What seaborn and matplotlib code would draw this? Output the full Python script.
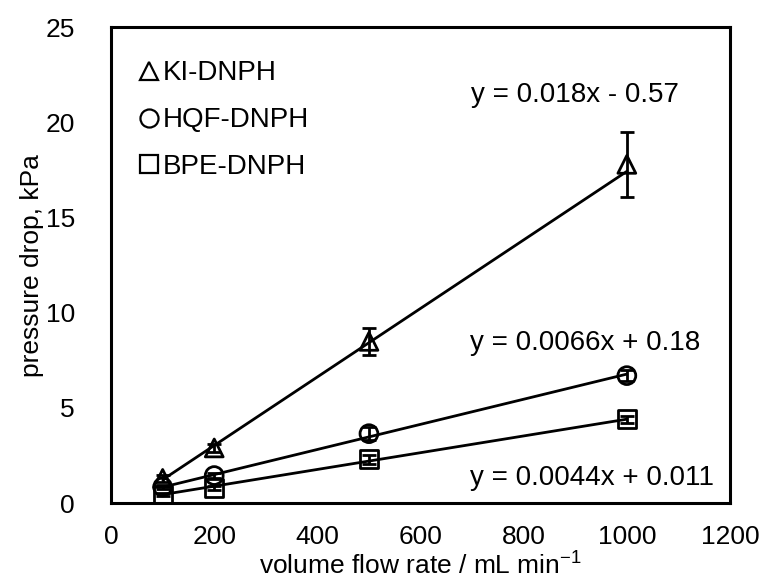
import matplotlib
matplotlib.use("Agg")
import matplotlib.pyplot as plt
from matplotlib.lines import Line2D
import numpy as np
import pandas as pd
import seaborn as sns

# ---- data ----
flow = [100, 200, 500, 1000]
series = ["KI-DNPH", "HQF-DNPH", "BPE-DNPH"]
ki = [1.3, 2.9, 8.5, 17.8]
ki_err = [0.2, 0.2, 0.7, 1.7]
hqf = [0.85, 1.45, 3.65, 6.7]
hqf_err = [0.1, 0.15, 0.35, 0.3]
bpe = [0.45, 0.8, 2.3, 4.4]
bpe_err = [0.1, 0.1, 0.25, 0.2]
slopes = [0.018, 0.0066, 0.0044]
intercepts = [-0.57, 0.18, 0.011]
eq_labels = ["y = 0.018x - 0.57", "y = 0.0066x + 0.18", "y = 0.0044x + 0.011"]
fit_x = [100, 1000]
markers = ["^", "o", "s"]

sns.set_theme(style="white")
plt.rcParams["font.family"] = ["Liberation Sans", "DejaVu Sans"]
plt.rcParams["mathtext.fontset"] = "custom"
plt.rcParams["mathtext.rm"] = "Liberation Sans"
plt.rcParams["text.color"] = "black"
plt.rcParams["axes.labelcolor"] = "black"
plt.rcParams["xtick.color"] = "black"
plt.rcParams["ytick.color"] = "black"

fig = plt.figure(figsize=(7.66, 5.81), dpi=100)
ax = fig.add_axes([0.145, 0.134, 0.808, 0.819])

vals = [ki, hqf, bpe]
errs = [ki_err, hqf_err, bpe_err]

# trendlines
fit_rows = []
for name, m, b in zip(series, slopes, intercepts):
    for xv in fit_x:
        fit_rows.append({"series": name, "x": xv, "y": m * xv + b})
fit_df = pd.DataFrame(fit_rows)
sns.lineplot(data=fit_df, x="x", y="y", units="series", estimator=None,
             color="black", linewidth=2, ax=ax, legend=False)

# points + error bars
for name, v, e, mk in zip(series, vals, errs, markers):
    ax.errorbar(flow, v, yerr=e, fmt="none", ecolor="black", elinewidth=2,
                capsize=5, capthick=2, zorder=3)
    df = pd.DataFrame({"x": flow, "y": v})
    sns.scatterplot(data=df, x="x", y="y", marker=mk, s=165,
                    facecolors="none", edgecolor="black", linewidth=2,
                    ax=ax, zorder=4, legend=False)

# equations
eq_pos = [(900, 21.45), (919, 8.4), (932, 1.3)]
for txt, (xx, yy) in zip(eq_labels, eq_pos):
    ax.text(xx, yy, txt, ha="center", va="center", fontsize=20, color="black")

# legend
handles = [Line2D([], [], linestyle="none", marker=mk, markersize=13,
                  markerfacecolor="none", markeredgecolor="black",
                  markeredgewidth=1.6) for mk in markers]
ax.legend(handles, series, loc="upper left", frameon=False, fontsize=20,
          handlelength=0.7, handletextpad=0.15, labelspacing=0.75,
          bbox_to_anchor=(0.01, 0.977), borderaxespad=0.5, borderpad=0.3)

ax.set_xlim(0, 1200)
ax.set_ylim(0, 25)
ax.set_xticks(np.arange(0, 1201, 200))
ax.set_yticks(np.arange(0, 26, 5))
ax.tick_params(axis="both", direction="in", length=7, width=2,
               labelsize=19, colors="black")
ax.tick_params(axis="y", pad=26)
ax.tick_params(axis="x", pad=16)
for s in ax.spines.values():
    s.set_visible(True)
    s.set_color("black")
    s.set_linewidth(2.2)
ax.set_xlabel("volume flow rate / mL min$^{\\mathregular{-1}}$", fontsize=19,
              color="black", labelpad=1)
ax.set_ylabel("pressure drop, kPa", fontsize=19, color="black", labelpad=1)

fig.savefig("out.png", dpi=100)
